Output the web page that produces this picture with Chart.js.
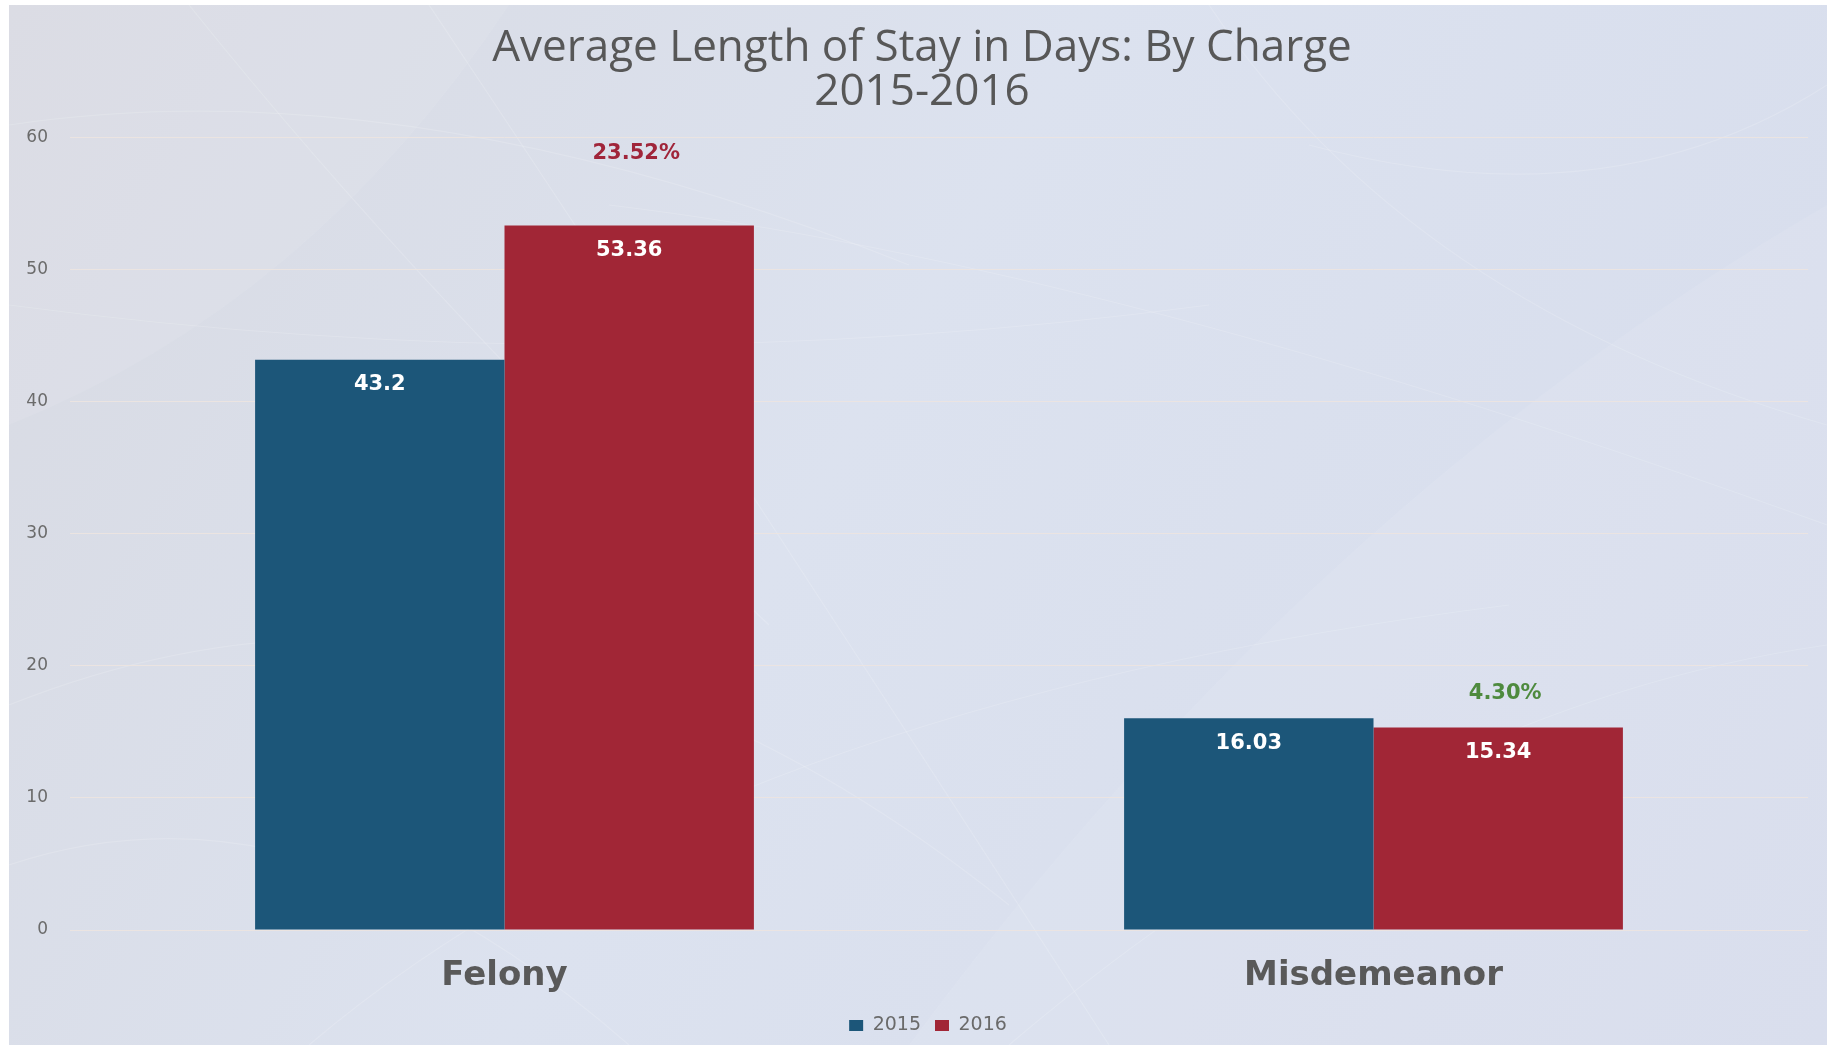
<!DOCTYPE html>
<html>
<head>
<meta charset="utf-8">
<script src="https://cdn.jsdelivr.net/npm/chart.js@4/dist/chart.umd.min.js"></script>
<style>
  html, body { margin: 0; padding: 0; background: #ffffff; }
  #wrap { position: absolute; left: 9px; top: 5px; width: 1818px; height: 1040px; }
</style>
</head>
<body>
<div id="wrap"><canvas id="c"></canvas></div>
<script>
const titleLines = ['Average Length of Stay in Days: By Charge', '2015-2016'];
const categories = ['Felony', 'Misdemeanor'];
const seriesNames = ['2015', '2016'];
const values2015 = [43.2, 16.03];
const values2016 = [53.36, 15.34];
const changeLabels = ['23.52%', '4.30%'];
const changeLevels = [58.8, 17.9];
const changeColors = ['#a0253a', '#4e8a3e'];
const yMin = 0, yMax = 60, yStep = 10;

const BLUE = '#1c5679';
const RED = '#a12636';

const backgroundPlugin = {
  id: 'bg',
  beforeDraw(chart) {
    const { ctx, width, height } = chart;
    ctx.save();
    const g = ctx.createLinearGradient(0, 0, width, height);
    g.addColorStop(0, '#d8dae2');
    g.addColorStop(0.45, '#dce2ef');
    g.addColorStop(1, '#d6dcec');
    ctx.fillStyle = g;
    ctx.fillRect(0, 0, width, height);
    // soft translucent wisps
    ctx.strokeStyle = 'rgba(255,255,255,0.16)';
    ctx.lineWidth = 1.2;
    const curves = [
      [0, 120, 400, 60, 900, 260],
      [180, 0, 420, 300, 760, 620],
      [420, 0, 700, 420, 1100, 1040],
      [0, 700, 500, 500, 1000, 900],
      [1200, 0, 1400, 300, 1818, 420],
      [1000, 1040, 1400, 700, 1818, 640],
      [0, 860, 300, 760, 620, 1040],
      [1300, 140, 1600, 220, 1818, 80],
      [600, 200, 1100, 260, 1818, 520],
      [0, 300, 600, 380, 1200, 300],
      [300, 1040, 700, 700, 1500, 600]
    ];
    curves.forEach(c => {
      ctx.beginPath();
      ctx.moveTo(c[0], c[1]);
      ctx.quadraticCurveTo(c[2], c[3], c[4], c[5]);
      ctx.stroke();
    });
    ctx.fillStyle = 'rgba(255,255,255,0.08)';
    ctx.beginPath();
    ctx.moveTo(0, 0); ctx.lineTo(500, 0); ctx.quadraticCurveTo(300, 300, 0, 420); ctx.closePath();
    ctx.fill();
    ctx.beginPath();
    ctx.moveTo(1818, 200); ctx.quadraticCurveTo(1300, 500, 900, 1040); ctx.lineTo(1818, 1040); ctx.closePath();
    ctx.fill();
    ctx.restore();
  }
};

// shift the centred title and legend a little to the right, as in the original slide
const shiftPlugin = {
  id: 'shiftBoxes',
  afterLayout(chart) {
    if (chart.titleBlock) chart.titleBlock.left += 27;
    if (chart.legend) chart.legend.left += 39;
  }
};

const labelPlugin = {
  id: 'barLabels',
  afterDatasetsDraw(chart) {
    const { ctx } = chart;
    ctx.save();
    ctx.textAlign = 'center';
    ctx.textBaseline = 'middle';
    ctx.font = 'bold 21px "DejaVu Sans"';
    chart.data.datasets.forEach((ds, i) => {
      chart.getDatasetMeta(i).data.forEach((bar, j) => {
        ctx.fillStyle = '#ffffff';
        ctx.fillText(String(ds.data[j]), bar.x, bar.y + 25);
      });
    });
    const meta = chart.getDatasetMeta(1);
    meta.data.forEach((bar, j) => {
      ctx.fillStyle = changeColors[j];
      ctx.fillText(changeLabels[j], bar.x + 7, chart.scales.y.getPixelForValue(changeLevels[j]));
    });
    ctx.restore();
  }
};

new Chart(document.getElementById('c'), {
  type: 'bar',
  data: {
    labels: categories,
    datasets: [
      { label: seriesNames[0], data: values2015, backgroundColor: BLUE, borderWidth: 0 },
      { label: seriesNames[1], data: values2016, backgroundColor: RED, borderWidth: 0 }
    ]
  },
  options: {
    responsive: true,
    maintainAspectRatio: false,
    animation: false,
    layout: { padding: { left: 0, right: 19, top: 0, bottom: 0 } },
    datasets: { bar: { barPercentage: 1.0, categoryPercentage: 0.574 } },
    plugins: {
      title: {
        display: true,
        text: titleLines,
        color: '#575757',
        font: { family: '"Open Sans"', size: 44, weight: 'normal', lineHeight: 1.01 },
        padding: { top: 21, bottom: 23 }
      },
      legend: {
        position: 'bottom',
        labels: {
          color: '#6a6a6a',
          font: { family: '"DejaVu Sans"', size: 19 },
          boxWidth: 14,
          boxHeight: 11,
          padding: 14
        }
      },
      tooltip: { enabled: false }
    },
    scales: {
      x: {
        grid: { display: false, drawTicks: false },
        border: { display: false },
        ticks: {
          color: '#595959',
          font: { family: '"DejaVu Sans"', size: 34, weight: 'bold' },
          padding: 26
        },
        afterFit(scale) { scale.height = 72; }
      },
      y: {
        min: yMin,
        max: yMax,
        grid: { color: 'rgba(236,228,224,0.9)', lineWidth: 1, drawTicks: false },
        border: { display: false },
        ticks: {
          stepSize: yStep,
          color: '#6b6b6b',
          font: { family: '"DejaVu Sans"', size: 17 },
          padding: 22
        },
        afterFit(scale) { scale.width = 61; }
      }
    }
  },
  plugins: [backgroundPlugin, shiftPlugin, labelPlugin]
});
</script>
</body>
</html>
